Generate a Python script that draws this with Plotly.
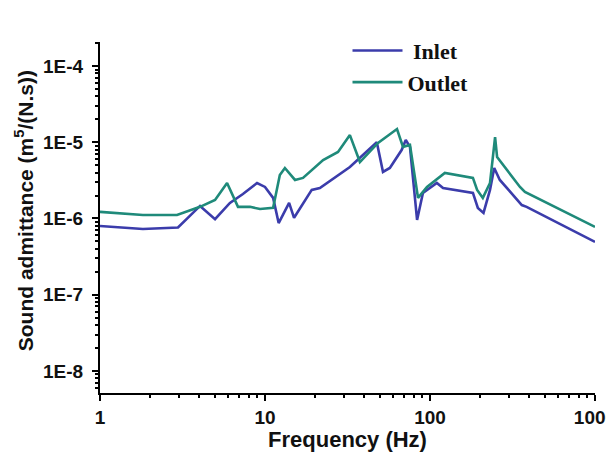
import plotly.graph_objects as go

# Inlet (blue)
inlet_f = [1, 1.82, 2.97, 4.04, 4.98, 6.13, 7.35, 8.95, 10.0, 11.2, 12.1, 14.0, 15.0,
           19.2, 21.5, 32.7, 47.6, 51.9, 57.1, 67.3, 71.3, 75.6, 83.5, 90.6, 110, 120,
           182, 195, 211, 231, 245, 265, 360, 385, 1000]
inlet_y = [7.97e-7, 7.28e-7, 7.6e-7, 1.46e-6, 9.8e-7, 1.6e-6, 2.09e-6, 2.92e-6, 2.59e-6,
           1.86e-6, 8.7e-7, 1.6e-6, 1.02e-6, 2.37e-6, 2.51e-6, 4.73e-6, 1.0e-5, 4.07e-6,
           4.6e-6, 7.9e-6, 1.07e-5, 8.7e-6, 9.55e-7, 2.16e-6, 2.92e-6, 2.51e-6, 2.16e-6,
           1.37e-6, 1.18e-6, 2.37e-6, 4.6e-6, 3.2e-6, 1.5e-6, 1.42e-6, 4.92e-7]

# Outlet (green)
outlet_f = [1, 1.82, 2.93, 4.04, 4.98, 5.89, 6.86, 8.11, 9.33, 11.2, 12.3, 13.2, 15.2,
            17.0, 22.5, 27.7, 32.7, 37.6, 48.4, 63.1, 68.6, 75.6, 84.6, 95.9, 123, 182,
            193, 209, 231, 248, 255, 351, 376, 1000]
outlet_y = [1.22e-6, 1.11e-6, 1.11e-6, 1.42e-6, 1.75e-6, 2.92e-6, 1.42e-6, 1.42e-6,
            1.33e-6, 1.38e-6, 3.71e-6, 4.59e-6, 3.2e-6, 3.4e-6, 5.85e-6, 7.45e-6, 1.24e-5,
            5.5e-6, 9.8e-6, 1.49e-5, 8.7e-6, 9.2e-6, 1.86e-6, 2.59e-6, 3.95e-6, 3.4e-6,
            2.37e-6, 1.86e-6, 2.92e-6, 1.17e-5, 6.4e-6, 2.59e-6, 2.23e-6, 7.75e-7]

y_tickvals = [1e-8, 1e-7, 1e-6, 1e-5, 1e-4]
y_ticktext = ["1E-8", "1E-7", "1E-6", "1E-5", "1E-4"]
x_tickvals = [1, 10, 100, 1000]
x_ticktext = ["1", "10", "100", "1000"]

# minor tick positions (2..9 within each decade)
y_minor = [m * 10.0 ** e for e in range(-9, -3) for m in range(2, 10)]
x_minor = [m * 10.0 ** e for e in range(0, 3) for m in range(2, 10)]

fig = go.Figure()
fig.add_trace(go.Scatter(x=inlet_f, y=inlet_y, mode="lines", name="&nbsp;<b>Inlet</b>",
                         line=dict(color="#3b3cab", width=2.6)))
fig.add_trace(go.Scatter(x=outlet_f, y=outlet_y, mode="lines", name="<b>Outlet</b>",
                         line=dict(color="#1f8a7a", width=2.6)))

tickfont = dict(family="Liberation Sans, Arial", size=19, color="#111111")

fig.update_layout(
    width=606, height=444,
    margin=dict(l=92, r=19, t=34, b=59, autoexpand=False),
    paper_bgcolor="white", plot_bgcolor="white",
    showlegend=True,
    legend=dict(x=0.5, y=1.035, xanchor="left", yanchor="top",
                font=dict(family="Liberation Serif, Times New Roman", size=22, color="#111111"),
                bgcolor="rgba(0,0,0,0)", tracegroupgap=0, itemwidth=50),
    xaxis=dict(type="log", range=[0, 3.0], showgrid=False, zeroline=False,
               automargin=False, ticklabeloverflow="allow",
               showline=True, linecolor="black", linewidth=2,
               ticks="outside", ticklen=6, tickwidth=2, tickcolor="black",
               tickvals=x_tickvals, ticktext=["<b>%s</b>" % t for t in x_ticktext],
               tickfont=tickfont,
               minor=dict(ticks="outside", ticklen=3, tickwidth=1.5, tickcolor="black",
                          tickvals=x_minor, showgrid=False),
               title=dict(text="<b>Frequency (Hz)</b>", standoff=0,
                          font=dict(family="Liberation Sans, Arial", size=22, color="#111111"))),
    yaxis=dict(type="log", range=[-8.29, -3.685], showgrid=False, zeroline=False,
               automargin=False,
               showline=True, linecolor="black", linewidth=2,
               ticks="outside", ticklen=6, tickwidth=2, tickcolor="black",
               ticklabelstandoff=5,
               tickvals=y_tickvals, ticktext=["<b>%s</b>" % t for t in y_ticktext],
               tickfont=tickfont,
               minor=dict(ticks="outside", ticklen=3, tickwidth=1.5, tickcolor="black",
                          tickvals=y_minor, showgrid=False)),
    annotations=[dict(text="<b>Sound admittance (m<sup>5</sup>/(N.s))</b>",
                      textangle=-90, xref="paper", yref="paper",
                      x=-0.152, y=0.52, xanchor="center", yanchor="middle",
                      showarrow=False,
                      font=dict(family="Liberation Sans, Arial", size=21, color="#111111"))],
)

fig.write_html("out.html")
